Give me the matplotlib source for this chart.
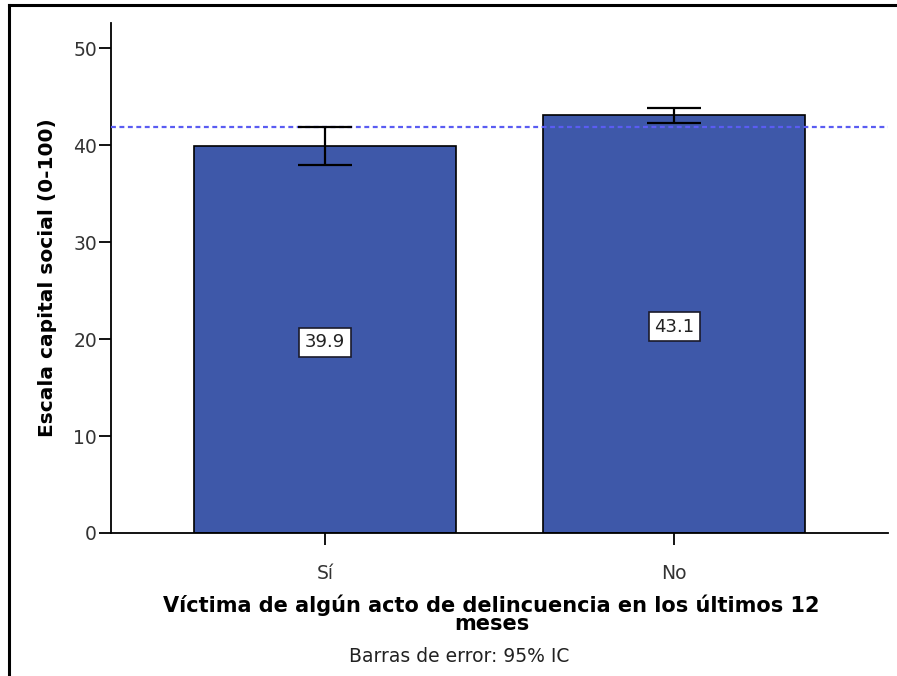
import matplotlib
matplotlib.use("Agg")
import matplotlib.pyplot as plt
from matplotlib.lines import Line2D

# -----------------------------
# Data
# -----------------------------
categories = ["Sí", "No"]
means = [39.9, 43.1]
ci_low = [37.95, 42.27]
ci_high = [41.88, 43.84]
reference_mean = 41.9

yticks = [0, 10, 20, 30, 40, 50]

bar_color = "#3e58a9"
line_color = "#5a5cf2"

# -----------------------------
# Plot
# -----------------------------
plt.rcParams["font.family"] = ["DejaVu Sans"]

fig = plt.figure(figsize=(8.97, 6.76), dpi=100)
ax = fig.add_axes([111 / 897, 1 - 533 / 676, (888 - 111) / 897, (533 - 23) / 676])

x = list(range(len(categories)))
ax.bar(x, means, width=0.75, color=bar_color, edgecolor="black", linewidth=1.2, zorder=2)

lower = [m - lo for m, lo in zip(means, ci_low)]
upper = [hi - m for m, hi in zip(means, ci_high)]
ax.errorbar(x, means, yerr=[lower, upper], fmt="none", ecolor="black",
            elinewidth=1.6, capsize=19.5, capthick=1.6, zorder=4)

ax.axhline(reference_mean, color=line_color, linestyle=(0, (2.2, 1.6)),
           linewidth=1.6, zorder=3)

for xi, m in zip(x, means):
    ax.text(xi, m / 2 - 0.3, f"{m:.1f}", ha="center", va="center", fontsize=13,
            color="#222222", zorder=5,
            bbox=dict(boxstyle="square,pad=0.3", facecolor="white",
                      edgecolor="#1a1a2a", linewidth=1.2))

ax.set_xlim(-0.613, 1.613)
ax.set_ylim(0, 52.58)
ax.set_yticks(yticks)
ax.set_xticks(x)
ax.set_xticklabels(categories)

for side in ["top", "right"]:
    ax.spines[side].set_visible(False)
ax.spines["left"].set_linewidth(1.3)
ax.spines["bottom"].set_linewidth(1.3)

ax.tick_params(axis="both", direction="out", length=8.6, width=1.3,
               labelsize=13.5, colors="black", labelcolor="#333333")
ax.tick_params(axis="y", pad=1.5)
ax.tick_params(axis="x", pad=14)

ax.set_ylabel("Escala capital social (0-100)", fontsize=14.5, fontweight="bold")
ax.yaxis.set_label_coords(-0.0695, 0.5)

fig.text(0.548, 1 - 614 / 676,
         "Víctima de algún acto de delincuencia en los últimos 12\nmeses",
         ha="center", va="center", multialignment="center", fontsize=15,
         fontweight="bold", linespacing=0.88)
fig.text(459 / 897, 1 - 656 / 676, "Barras de error: 95% IC",
         ha="center", va="center", fontsize=13.5, color="#222222")

# frame lines at top and left of the figure
fig.add_artist(Line2D([9 / 897, 1.0], [1 - 5 / 676, 1 - 5 / 676],
                      transform=fig.transFigure, color="black", linewidth=2.2))
fig.add_artist(Line2D([9 / 897, 9 / 897], [0, 1 - 5 / 676],
                      transform=fig.transFigure, color="black", linewidth=2.2))

fig.savefig("out.png", dpi=100)
